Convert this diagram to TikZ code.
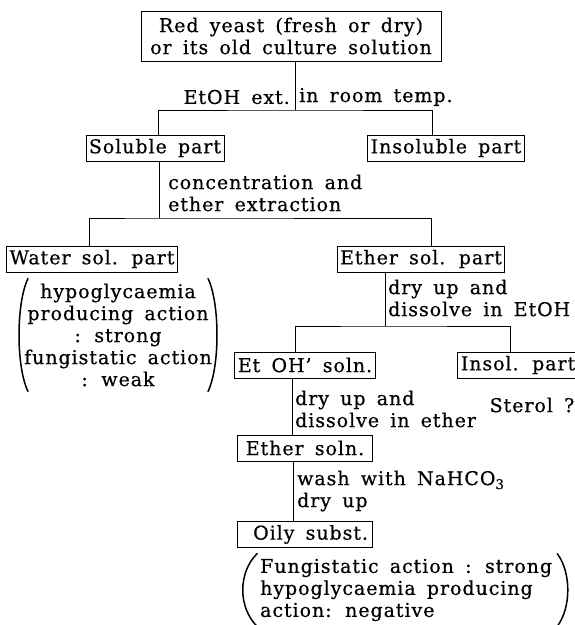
\documentclass[tikz,border=0pt]{standalone}
\usepackage{fontspec}
\setmainfont{DejaVu Serif}[LetterSpace=5,WordSpace=1.6,FakeBold=0.5]
\usetikzlibrary{calc,positioning}
\newcommand{\chartfont}{\fontsize{19}{22}\selectfont}
\tikzset{
  part/.style={draw,line width=0.8pt,inner xsep=3pt,inner ysep=0pt,minimum height=26pt,font=\chartfont},
  note/.style={inner sep=0pt,align=left,font=\chartfont},
  link/.style={line width=0.8pt},
  paren/.style={line width=1.5pt,line cap=round}
}

\begin{document}
\begin{tikzpicture}[x=1pt,y=-1pt]
  \useasboundingbox (0,0) rectangle (575,625);
  % extraction with EtOH
  \node[part,align=center,minimum width=300pt,minimum height=50pt] (yeast) at (291,36) {Red yeast (fresh or dry)\\or its old culture solution};
  \node[note,anchor=east] (extL) at (290,97) {EtOH ext.};
  \node[note,anchor=west] (extR) at (299,97) {in room temp.};
  \node[part] (soluble) at (155,148) {Soluble part};
  \node[part] (insoluble) at (446,148) {Insoluble part};
  \coordinate (j1) at (295,110);
  \draw[link] (j1 |- yeast.south) -- (j1);
  \draw[link] ([xshift=3pt]soluble.north) |- (j1) -| ([xshift=-14pt]insoluble.north);
  % ether extraction
  \node[note,anchor=west] (conc) at (168,193) {concentration and\\ether extraction};
  \node[part] (water) at (92,259) {Water sol. part};
  \node[part] (ethersol) at (421,259) {Ether sol. part};
  \coordinate (j2) at (159,218);
  \draw[link] (j2 |- soluble.south) -- (j2);
  \draw[link] ([xshift=-3pt]water.north) |- (j2) -| ([xshift=10pt]ethersol.north);
  \node[note,align=center] (waterprop) at (118,335) {hypoglycaemia\\producing action\\: strong\\fungistatic action\\: weak};
  \draw[paren] ([xshift=4pt,yshift=5pt]waterprop.north west) .. controls ([xshift=-8pt,yshift=-20pt]waterprop.north west) and ([xshift=-8pt,yshift=20pt]waterprop.south west) .. ([xshift=4pt,yshift=-5pt]waterprop.south west);
  \draw[paren] ([xshift=-4pt,yshift=5pt]waterprop.north east) .. controls ([xshift=8pt,yshift=-20pt]waterprop.north east) and ([xshift=8pt,yshift=20pt]waterprop.south east) .. ([xshift=-4pt,yshift=-5pt]waterprop.south east);
  % EtOH solution
  \coordinate (j3) at (385,326);
  \draw[link] (j3 |- ethersol.south) -- (j3);
  \node[note,anchor=west] (dryA) at (388,298) {dry up and\\dissolve in EtOH};
  \node[part,minimum width=135pt] (etohsoln) at (305,365) {Et OH' soln.};
  \node[part] (insolpart) at (518,365) {Insol. part};
  \draw[link] ([xshift=-10pt]etohsoln.north) |- (j3) -| ([xshift=-8pt]insolpart.north);
  \node[note,anchor=west] (dryB) at (295,409) {dry up and\\dissolve in ether};
  \node[note] (sterol) at (532,405) {Sterol ?};
  \node[part,minimum width=135pt] (ethersoln) at (305,448) {Ether soln.};
  \draw[link] ([xshift=-13pt]etohsoln.south) -- ([xshift=-13pt]ethersoln.north);
  \node[note,anchor=west] (wash) at (297,491) {wash with NaHCO\textsubscript{3}\\dry up};
  \node[part,minimum width=135pt] (oily) at (305,534.5) {\ Oily subst.};
  \draw[link] ([xshift=-12pt]ethersoln.south) -- ([xshift=-12pt]oily.north);
  \node[note,anchor=west] (oilyprop) at (260,590) {Fungistatic action : strong\\hypoglycaemia producing\\action: negative};
  \draw[paren] ([xshift=-3pt,yshift=5pt]oilyprop.north west) .. controls ([xshift=-22pt,yshift=-14pt]oilyprop.north west) and ([xshift=-22pt,yshift=14pt]oilyprop.south west) .. ([xshift=-3pt,yshift=-5pt]oilyprop.south west);
  \draw[paren] ([xshift=5pt,yshift=5pt]oilyprop.north east) .. controls ([xshift=19pt,yshift=-14pt]oilyprop.north east) and ([xshift=19pt,yshift=14pt]oilyprop.south east) .. ([xshift=5pt,yshift=-5pt]oilyprop.south east);
\end{tikzpicture}
\end{document}
